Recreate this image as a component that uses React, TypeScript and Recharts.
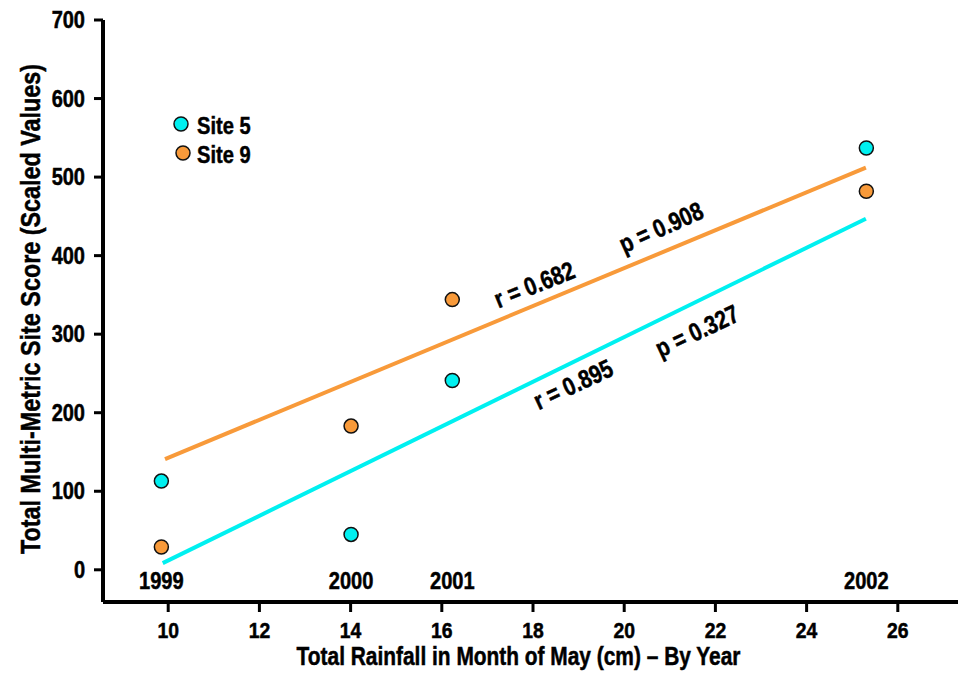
import React from 'react';
import { ComposedChart, XAxis, YAxis, Scatter, Line } from 'recharts';

const FONT = "'Liberation Sans', Arial, Helvetica, sans-serif";
const SQUEEZE = 0.82;
const CYAN = '#00F0F0';
const ORANGE = '#F89A3A';

// Observations
const rainfall = [9.85, 14.01, 16.23, 25.31];
const years = ['1999', '2000', '2001', '2002'];
const site5Scores = [113, 45, 241, 537];
const site9Scores = [29, 183, 344, 482];

// Fitted trend lines (end points)
const site5FitX = [9.88, 25.3];
const site5FitY = [8.5, 447];
const site9FitX = [9.93, 25.3];
const site9FitY = [141, 512];

// Axis ticks
const xTicks = [10, 12, 14, 16, 18, 20, 22, 24, 26];
const yTicks = [0, 100, 200, 300, 400, 500, 600, 700];

// Statistics annotations (anchored in data coordinates)
const statTexts = ['r = 0.682', 'p = 0.908', 'r = 0.895', 'p = 0.327'];
const statX = [18.03, 20.81, 18.88, 21.6];
const statY = [363, 436, 236, 304];
const statAngles = [-22, -24, -25, -25];

// Legend
const legendNames = ['Site 5', 'Site 9'];
const legendColors = [CYAN, ORANGE];

const site5Data = rainfall.map((x, i) => ({ x, y: site5Scores[i] }));
const site9Data = rainfall.map((x, i) => ({ x, y: site9Scores[i] }));
const site5Fit = site5FitX.map((x, i) => ({ x, y: site5FitY[i] }));
const site9Fit = site9FitX.map((x, i) => ({ x, y: site9FitY[i] }));
const yearData = rainfall.map((x, i) => ({ x, y: 0, year: years[i] }));
const statData = statTexts.map((t, i) => ({ x: statX[i], y: statY[i], text: t, idx: i }));

type NTextProps = {
  x: number;
  y: number;
  size: number;
  anchor?: 'start' | 'middle' | 'end';
  baseline?: 'central' | 'auto';
  angle?: number;
  squeeze?: number;
  children: React.ReactNode;
};

const NText = ({ x, y, size, anchor = 'middle', baseline = 'auto', angle = 0, squeeze = SQUEEZE, children }: NTextProps) => (
  <text
    x={0}
    y={0}
    transform={`translate(${x} ${y}) rotate(${angle}) scale(${squeeze} 1)`}
    textAnchor={anchor}
    dominantBaseline={baseline}
    fontFamily={FONT}
    fontWeight="bold"
    fontSize={size}
    fill="#000"
    stroke="#000"
    strokeWidth={0.5}
  >
    {children}
  </text>
);

const dot = (fill: string) => (p: any) => (
  <circle cx={p.cx} cy={p.cy} r={7} fill={fill} stroke="#111" strokeWidth={1.5} />
);

const XTick = (p: any) => (
  <NText x={p.x} y={p.y + 24} size={21.5} squeeze={0.9}>
    {p.payload.value}
  </NText>
);

const YTick = (p: any) => (
  <NText x={p.x} y={p.y} size={23} anchor="end" baseline="central" squeeze={0.87}>
    {p.payload.value}
  </NText>
);

export default function App() {
  return (
    <div style={{ position: 'absolute', left: 0, top: 0, width: 964, height: 677 }}>
      <ComposedChart width={964} height={677} margin={{ top: 20, right: 6, bottom: 0, left: 0 }}>
        <XAxis
          type="number"
          dataKey="x"
          domain={[8.57, 27.32]}
          ticks={xTicks}
          allowDataOverflow
          height={75}
          axisLine={{ stroke: '#000', strokeWidth: 4 }}
          tickLine={{ stroke: '#000', strokeWidth: 3 }}
          tickSize={10}
          tickMargin={2}
          tick={<XTick />}
          label={(props: any) => {
            const vb = props.viewBox || {};
            return (
              <NText x={vb.x + vb.width / 2 - 12} y={vb.y + 54} size={25.5} baseline="central">
                Total Rainfall in Month of May (cm) – By Year
              </NText>
            );
          }}
        />
        <YAxis
          type="number"
          dataKey="y"
          domain={[-41, 700]}
          ticks={yTicks}
          allowDataOverflow
          width={103}
          axisLine={{ stroke: '#000', strokeWidth: 4 }}
          tickLine={{ stroke: '#000', strokeWidth: 3 }}
          tickSize={9}
          tickMargin={9}
          tick={<YTick />}
          label={(props: any) => {
            const vb = props.viewBox || {};
            return (
              <NText x={30} y={vb.y + vb.height / 2 - 2} size={28.5} baseline="central" angle={-90}>
                Total Multi-Metric Site Score (Scaled Values)
              </NText>
            );
          }}
        />
        <Line
          data={site9Fit}
          dataKey="y"
          type="linear"
          stroke={ORANGE}
          strokeWidth={4}
          dot={false}
          activeDot={false}
          legendType="none"
          isAnimationActive={false}
        />
        <Line
          data={site5Fit}
          dataKey="y"
          type="linear"
          stroke={CYAN}
          strokeWidth={4}
          dot={false}
          activeDot={false}
          legendType="none"
          isAnimationActive={false}
        />
        <Scatter name="Site 5" data={site5Data} fill={CYAN} shape={dot(CYAN)} isAnimationActive={false} />
        <Scatter name="Site 9" data={site9Data} fill={ORANGE} shape={dot(ORANGE)} isAnimationActive={false} />
        <Scatter
          data={yearData}
          legendType="none"
          isAnimationActive={false}
          shape={(p: any) => (
            <NText x={p.cx} y={p.cy + 19.5} size={24.5}>
              {p.payload.year}
            </NText>
          )}
        />
        <Scatter
          data={statData}
          legendType="none"
          isAnimationActive={false}
          shape={(p: any) => (
            <NText x={p.cx} y={p.cy} size={25.5} baseline="central" angle={statAngles[p.payload.idx]}>
              {p.payload.text}
            </NText>
          )}
        />
      </ComposedChart>
      <svg width={120} height={60} style={{ position: 'absolute', left: 160, top: 105, overflow: 'visible' }}>
        {legendNames.map((name, i) => (
          <g key={name}>
            <circle cx={21 + i * 2} cy={19 + i * 29} r={7} fill={legendColors[i]} stroke="#111" strokeWidth={1.5} />
            <NText x={37} y={21 + i * 29} size={24.5} anchor="start" baseline="central">
              {name}
            </NText>
          </g>
        ))}
      </svg>
    </div>
  );
}
